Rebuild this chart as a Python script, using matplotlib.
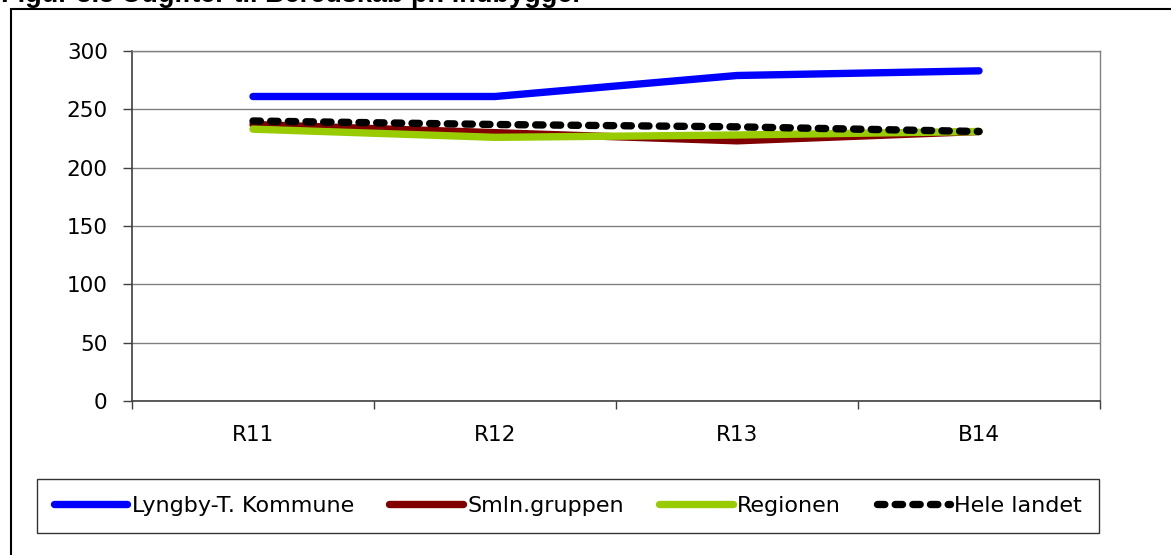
import numpy as np
import matplotlib.pyplot as plt
from matplotlib.patches import Rectangle

categories = ["R11", "R12", "R13", "B14"]
lyngby = [261, 261, 279, 283]
smln = [237, 230, 223, 231]
regionen = [233, 226, 228, 231]
hele_landet = [240, 237, 235, 231]
yticks = [0, 50, 100, 150, 200, 250, 300]

W, H = 1171, 555
fig = plt.figure(figsize=(W / 100, H / 100), dpi=100)

# outer frame (cut off at the right/bottom edge in the source)
fig.patches.append(Rectangle((11 / W, -0.1), 1.2, 1 - 9 / H + 0.1, transform=fig.transFigure,
                             fill=False, edgecolor="black", linewidth=1.5))
# heading, cropped at the top like in the source
fig.text(1 / W, 1 - 2.5 / H, "Figur 3.5 Udgifter til Beredskab pr. indbygger",
         family="Liberation Sans", weight="bold", fontsize=19.5, va="baseline", ha="left")

ax = fig.add_axes([132 / W, 1 - 401 / H, (1100 - 132) / W, (401 - 51) / H])
x = np.arange(len(categories))

lw = 5.3
ax.plot(x, lyngby, color="#0000ff", lw=lw, solid_capstyle="round", solid_joinstyle="round",
        label="Lyngby-T. Kommune")
ax.plot(x, smln, color="#800000", lw=lw, solid_capstyle="round", solid_joinstyle="round",
        label="Smln.gruppen")
ax.plot(x, regionen, color="#99cc00", lw=lw, solid_capstyle="round", solid_joinstyle="round",
        label="Regionen")
ax.plot(x, hele_landet, color="black", lw=lw, ls=(0, (1.0, 1.4)), dash_capstyle="round",
        label="Hele landet")

ax.set_xlim(-0.5, len(categories) - 0.5)
ax.set_ylim(0, 300)
ax.set_yticks(yticks)
ax.yaxis.grid(True, color="#808080", lw=1)
ax.set_axisbelow(True)
ax.tick_params(axis="y", direction="out", length=6.5, width=1, color="#404040",
               labelsize=15.5, pad=11)

ax.set_xticks(x)
ax.set_xticklabels(categories)
ax.set_xticks(np.arange(len(categories) + 1) - 0.5, minor=True)
ax.tick_params(axis="x", which="major", length=0, labelsize=15.5, pad=17)
ax.tick_params(axis="x", which="minor", direction="out", length=6, width=1, color="#404040")

for side in ["left", "bottom"]:
    ax.spines[side].set_color("#404040")
    ax.spines[side].set_linewidth(1.2)
for side in ["top", "right"]:
    ax.spines[side].set_color("#808080")
    ax.spines[side].set_linewidth(1)

leg = fig.legend(loc="center", bbox_to_anchor=((28 + 1108) / 2 / W, 1 - 506 / H), ncol=4,
                 fontsize=16, frameon=True, fancybox=False, handlelength=3.3,
                 handletextpad=0.2, columnspacing=1.6, borderpad=0.75)
leg.get_frame().set_edgecolor("black")
leg.get_frame().set_linewidth(1)

fig.savefig("out.png", dpi=100)
